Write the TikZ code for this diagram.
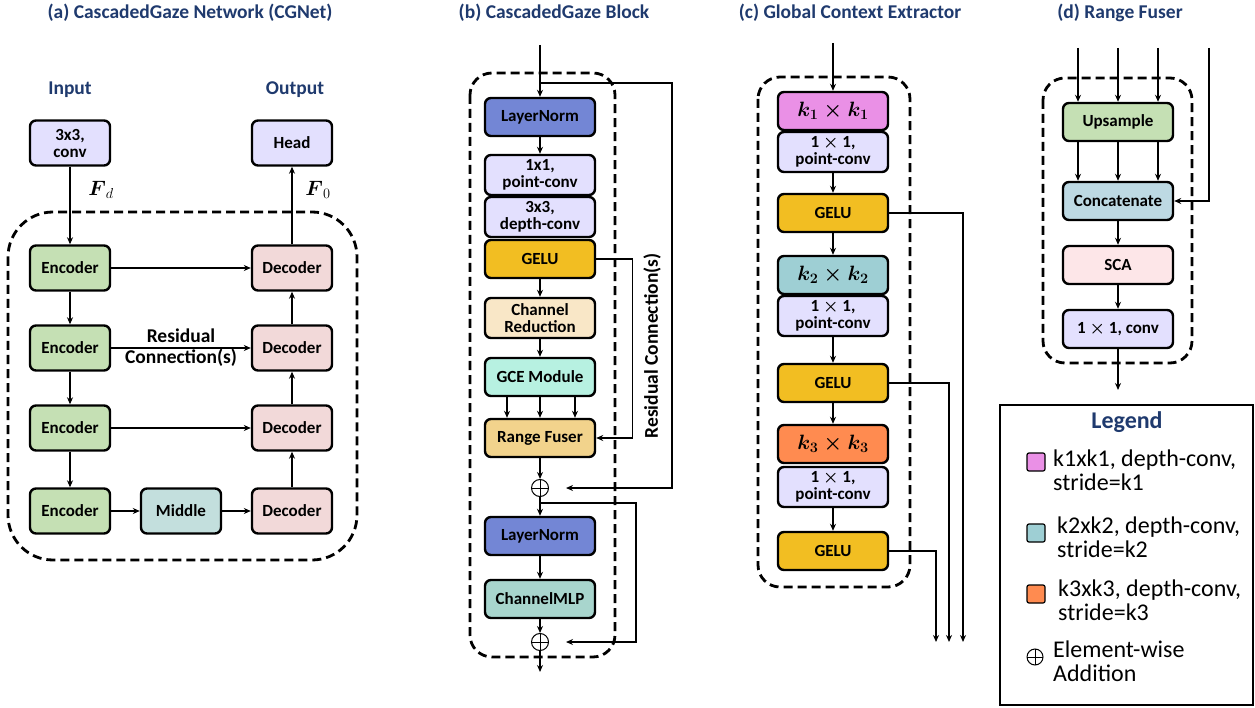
\documentclass[tikz,border=0pt]{standalone}
\usepackage{amsmath}
\usepackage{fontspec}
\setmainfont{Carlito}
\usetikzlibrary{arrows.meta}
\definecolor{navy}{HTML}{1F3A6E}
\definecolor{lav}{HTML}{E3E0FE}
\definecolor{encg}{HTML}{C5E0B4}
\definecolor{decp}{HTML}{F2D9D9}
\definecolor{midc}{HTML}{C3DFDD}
\definecolor{lnorm}{HTML}{7386D5}
\definecolor{geluc}{HTML}{F2BE22}
\definecolor{chred}{HTML}{F9E7C7}
\definecolor{gcec}{HTML}{B7F1E1}
\definecolor{rfus}{HTML}{F2D38C}
\definecolor{cmlp}{HTML}{A8D5CD}
\definecolor{kone}{HTML}{EA90E6}
\definecolor{ktwo}{HTML}{9ECFD4}
\definecolor{kthree}{HTML}{FF8B50}
\definecolor{catc}{HTML}{BDD9E3}
\definecolor{scac}{HTML}{FDE6E8}
\newcommand{\onebyone}{$\mathbf{1}\boldsymbol{\times}\mathbf{1}$}
\begin{document}
\begin{tikzpicture}[x=1pt,y=-1pt,>={Stealth[length=7pt,width=6pt]}]
  \tikzstyle{block}=[draw=black,line width=2.4pt,rounded corners=6pt,minimum width=80pt,minimum height=45pt,inner sep=0pt,align=center,font=\fontsize{17}{17}\selectfont\bfseries]
  \tikzstyle{wide}=[block,minimum width=110pt,minimum height=38pt]
  \tikzstyle{kbox}=[wide,font=\fontsize{19.5}{19.5}\selectfont\bfseries]
  \tikzstyle{edge}=[draw,line width=1.3pt,->]
  \tikzstyle{dashbox}=[draw,line width=2.8pt,dash pattern=on 9pt off 5pt,rounded corners=22pt]
  \tikzstyle{paneltitle}=[font=\fontsize{19.5}{22}\selectfont\bfseries,text=navy]
  \tikzstyle{reslabel}=[align=center,font=\fontsize{19.5}{21}\selectfont\bfseries]
  \tikzstyle{oplus}=[circle,draw,line width=1pt,minimum size=17pt,inner sep=0pt,path picture={\draw[line width=1pt] (path picture bounding box.north) -- (path picture bounding box.south) (path picture bounding box.west) -- (path picture bounding box.east);}]
  \tikzstyle{legsq}=[draw,line width=1.2pt,rounded corners=2pt,minimum size=18pt,inner sep=0pt]
  \tikzstyle{legtext}=[font=\fontsize{24}{24}\selectfont,align=left,anchor=west,inner sep=0pt]

  \path[fill=white,use as bounding box] (0,0) rectangle (1255,708);

  % (a) network
  \node[paneltitle] (ta) at (190,13) {(a) CascadedGaze Network (CGNet)};
  \node[paneltitle] (tin) at (70,90) {Input};
  \node[paneltitle] (tout) at (295,90) {Output};
  \draw[dashbox,rounded corners=45pt] (8,212) rectangle (357,560);
  \node[block,fill=lav] (conv) at (70,143) {3x3,\\conv};
  \node[block,fill=lav] (head) at (292,143) {Head};
  \node[block,fill=encg] (enc1) at (70,268) {Encoder};
  \node[block,fill=encg] (enc2) at (70,348) {Encoder};
  \node[block,fill=encg] (enc3) at (70,428) {Encoder};
  \node[block,fill=encg] (enc4) at (70,511) {Encoder};
  \node[block,fill=midc] (mid) at (181,511) {Middle};
  \node[block,fill=decp] (dec1) at (292,268) {Decoder};
  \node[block,fill=decp] (dec2) at (292,348) {Decoder};
  \node[block,fill=decp] (dec3) at (292,428) {Decoder};
  \node[block,fill=decp] (dec4) at (292,511) {Decoder};
  \node[font=\fontsize{21}{21}\selectfont] (fd) at (101,190) {$\boldsymbol{F}_d$};
  \node[font=\fontsize{21}{21}\selectfont] (fo) at (318,190) {$\boldsymbol{F}_0$};

  \path[edge] (conv) edge (enc1);
  \path[edge] (enc1) edge (enc2);
  \path[edge] (enc2) edge (enc3);
  \path[edge] (enc3) edge (enc4);
  \path[edge] (enc4) edge (mid);
  \path[edge] (mid) edge (dec4);
  \path[edge] (dec4) edge (dec3);
  \path[edge] (dec3) edge (dec2);
  \path[edge] (dec2) edge (dec1);
  \path[edge] (dec1) edge (head);
  \path[edge] (enc1) edge (dec1);
  \path[edge] (enc2) edge node[reslabel] {Residual\\Connection(s)} (dec2);
  \path[edge] (enc3) edge (dec3);

  % (b) block
  \node[paneltitle] (tb) at (554,13) {(b) CascadedGaze Block};
  \draw[dashbox] (470,73) rectangle (615,657);
  \coordinate (bin) at (540,45);
  \coordinate (bres) at (540,83);
  \node[wide,fill=lnorm] (ln1) at (540,117) {LayerNorm};
  \node[wide,fill=lav,minimum height=40pt] (pw) at (540,175) {1x1,\\point-conv};
  \node[wide,fill=lav,minimum height=40pt] (dw) at (540,217) {3x3,\\depth-conv};
  \node[wide,fill=geluc] (gelu) at (540,259) {GELU};
  \node[wide,fill=chred,minimum height=40pt] (chr) at (540,318) {Channel\\Reduction};
  \node[wide,fill=gcec] (gce) at (540,377) {GCE Module};
  \node[wide,fill=rfus] (rfuse) at (540,438) {Range Fuser};
  \node[oplus] (add1) at (540,488) {};
  \coordinate (bres2) at (540,503);
  \node[wide,fill=lnorm] (ln2) at (540,536) {LayerNorm};
  \node[wide,fill=cmlp] (mlp) at (540,599) {ChannelMLP};
  \node[oplus] (add2) at (540,642) {};
  \coordinate (bout) at (540,672);
  \node[reslabel,rotate=90] (resb) at (652,346) {Residual Connection(s)};

  \draw[edge] (bin) -- (ln1);
  \path[edge] (ln1) edge (pw);
  \path[edge] (gelu) edge (chr);
  \path[edge] (chr) edge (gce);
  \foreach \dx in {-33,0,35}
    \draw[edge] ([xshift=\dx pt]gce.south) -- ([xshift=\dx pt]rfuse.north);
  \path[edge] (rfuse) edge (add1);
  \path[edge] (add1) edge (ln2);
  \path[edge] (ln2) edge (mlp);
  \path[edge] (mlp) edge (add2);
  \draw[edge] (add2) -- (bout);
  \draw[edge] (gelu.east) -| ++(36,179) -- (rfuse.east);
  \draw[edge] (bres) -| ++(132,405) -- ([xshift=17pt]add1.east);
  \draw[edge] (bres2) -| ++(96,139) -- ([xshift=17pt]add2.east);

  % (c) extractor
  \node[paneltitle] (tc) at (850,13) {(c) Global Context Extractor};
  \draw[dashbox] (758,77) rectangle (910,587);
  \coordinate (cin) at (833,43);
  \node[kbox,fill=kone] (kk1) at (833,111) {$\boldsymbol{k_1\times k_1}$};
  \node[wide,fill=lav,minimum height=40pt] (pa) at (833,152) {\onebyone,\\point-conv};
  \node[wide,fill=geluc] (g1) at (833,213) {GELU};
  \node[kbox,fill=ktwo] (kk2) at (833,275) {$\boldsymbol{k_2\times k_2}$};
  \node[wide,fill=lav,minimum height=40pt] (pb) at (833,316) {\onebyone,\\point-conv};
  \node[wide,fill=geluc] (g2) at (833,383) {GELU};
  \node[kbox,fill=kthree] (kk3) at (833,444) {$\boldsymbol{k_3\times k_3}$};
  \node[wide,fill=lav,minimum height=40pt] (pcc) at (833,487) {\onebyone,\\point-conv};
  \node[wide,fill=geluc] (g3) at (833,551) {GELU};
  \coordinate (cout1) at (963,642);
  \coordinate (cout2) at (949,642);
  \coordinate (cout3) at (936,642);

  \draw[edge] (cin) -- (kk1);
  \path[edge] (pa) edge (g1);
  \path[edge] (g1) edge (kk2);
  \path[edge] (pb) edge (g2);
  \path[edge] (g2) edge (kk3);
  \path[edge] (pcc) edge (g3);
  \draw[edge] (g1.east) -| (cout1);
  \draw[edge] (g2.east) -| (cout2);
  \draw[edge] (g3.east) -| (cout3);

  % (d) fuser
  \node[paneltitle] (td) at (1120,13) {(d) Range Fuser};
  \draw[dashbox] (1043,78) rectangle (1192,363);
  \coordinate (din) at (1118,48);
  \coordinate (dside) at (1209,48);
  \node[wide,fill=encg] (ups) at (1118,122) {Upsample};
  \node[wide,fill=catc] (cat) at (1118,201) {Concatenate};
  \node[wide,fill=scac] (sca) at (1118,265) {SCA};
  \node[wide,fill=lav] (cv) at (1118,329) {\onebyone, conv};
  \coordinate (dout) at (1118,390);

  \foreach \dx in {-40,0,40} {
    \draw[edge] ([xshift=\dx pt]din) -- ([xshift=\dx pt]ups.north);
    \draw[edge] ([xshift=\dx pt]ups.south) -- ([xshift=\dx pt]cat.north);
  }
  \draw[edge] (dside) |- (cat.east);
  \path[edge] (cat) edge (sca);
  \path[edge] (sca) edge (cv);
  \draw[edge] (cv) -- (dout);

  % legend
  \draw[line width=2pt] (1000,405) rectangle (1253,705);
  \node[font=\fontsize{24}{24}\selectfont\bfseries,text=navy] (lg) at (1127,422) {Legend};
  \node[legsq,fill=kone] (sq1) at (1036,462) {};
  \node[legsq,fill=ktwo] (sq2) at (1036,533) {};
  \node[legsq,fill=kthree] (sq3) at (1036,594) {};
  \node[oplus,minimum size=16pt] (sq4) at (1035,657) {};
  \node[legtext] (lt1) at (1053,470) {k1xk1, depth-conv,\\stride=k1};
  \node[legtext] (lt2) at (1057,537) {k2xk2, depth-conv,\\stride=k2};
  \node[legtext] (lt3) at (1058,600) {k3xk3, depth-conv,\\stride=k3};
  \node[legtext] (lt4) at (1053,661) {Element-wise\\Addition};
\end{tikzpicture}
\end{document}
